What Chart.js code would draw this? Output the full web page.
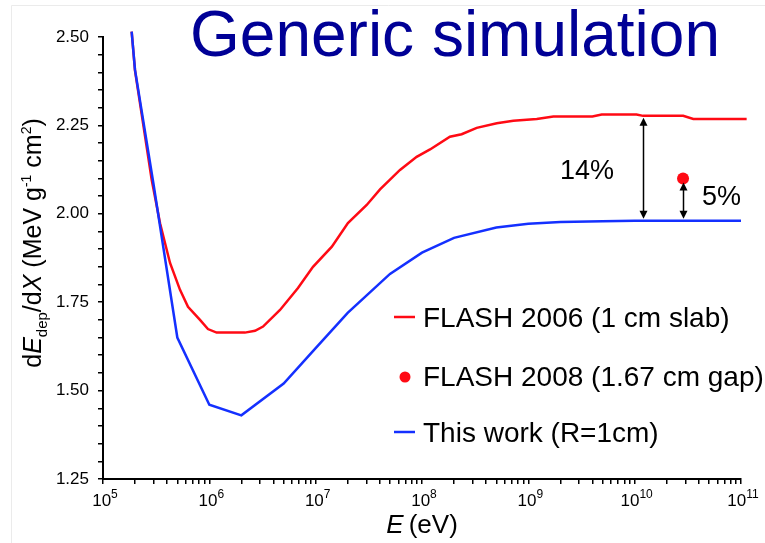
<!DOCTYPE html>
<html>
<head>
<meta charset="utf-8">
<script src="https://cdn.jsdelivr.net/npm/chart.js@4.4.1/dist/chart.umd.min.js"></script>
<style>
  html, body { margin: 0; padding: 0; background: #fff; }
  #wrap { position: relative; width: 765px; height: 543px; }
</style>
</head>
<body>
<div id="wrap"><canvas id="chart" width="765" height="543"></canvas></div>
<script>
// FLASH 2006 (1 cm slab) - energy (eV) and dE/dX
const flash2006E = [1.86e5, 2.0e5, 2.87e5, 3.44e5, 4.27e5, 5.3e5, 6.3e5, 8.17e5, 9.7e5, 1.17e6,
    2.16e6, 2.69e6, 3.2e6, 4.62e6, 6.82e6, 9.44e6, 1.42e7, 2.01e7, 3.02e7, 4.03e7,
    6.21e7, 8.91e7, 1.19e8, 1.83e8, 2.36e8, 3.27e8, 5.05e8, 7.23e8, 1.2e9, 1.72e9,
    4.0e9, 4.9e9, 1.04e10, 1.2e10, 2.86e10, 3.56e10, 1.13e11];
const flash2006Y = [2.515, 2.405, 2.096, 1.973, 1.861, 1.785, 1.737, 1.700, 1.674, 1.664,
    1.664, 1.669, 1.681, 1.728, 1.790, 1.850, 1.907, 1.974, 2.025, 2.069,
    2.124, 2.161, 2.182, 2.218, 2.225, 2.243, 2.256, 2.263, 2.268, 2.275,
    2.275, 2.281, 2.281, 2.277, 2.277, 2.268, 2.268];

// FLASH 2008 (1.67 cm gap)
const flash2008E = [2.85e10];
const flash2008Y = [2.10];

// This work (R=1cm)
const thisWorkE = [1.86e5, 2e5, 3e5, 5e5, 1e6, 2e6, 5e6, 1e7, 2e7, 5e7,
    1e8, 2e8, 5e8, 1e9, 2e9, 5e9, 1e10, 2e10, 5e10, 1e11];
const thisWorkY = [2.515, 2.407, 2.08, 1.65, 1.46, 1.43, 1.52, 1.62, 1.72, 1.83,
    1.89, 1.932, 1.961, 1.972, 1.977, 1.979, 1.980, 1.980, 1.980, 1.980];

// difference arrows: energy, top value, bottom value, label
const arrowE = [1.2e10, 2.85e10];
const arrowTop = [2.277, 2.10];
const arrowBottom = [1.98, 1.98];
const arrowLabels = ['14%', '5%'];

const xTickExponents = [5, 6, 7, 8, 9, 10, 11];
const yTickLabels = ['1.25', '1.50', '1.75', '2.00', '2.25', '2.50'];

const RED = '#ff0a14';
const BLUE = '#1430ff';
const FONT = '"Liberation Sans", Arial, Helvetica, sans-serif';

function toPoints(xs, ys) {
    return xs.map((v, i) => ({x: v, y: ys[i]}));
}

function drawArrowHead(ctx, x, y, dir) {
    ctx.beginPath();
    ctx.moveTo(x, y);
    ctx.lineTo(x - 4, y - dir * 8);
    ctx.lineTo(x + 4, y - dir * 8);
    ctx.closePath();
    ctx.fill();
}

// draws a run of text pieces, each with its own style/offset
function drawRich(ctx, parts, x, y, align) {
    const widths = parts.map(p => { ctx.font = p.font; return ctx.measureText(p.t).width; });
    const total = widths.reduce((a, b) => a + b, 0);
    let cx = align === 'center' ? x - total / 2 : x;
    parts.forEach((p, i) => {
        ctx.font = p.font;
        ctx.fillText(p.t, cx, y + (p.dy || 0));
        cx += widths[i];
    });
}

const decorations = {
    id: 'decorations',
    beforeDraw(chart) {
        const ctx = chart.ctx;
        ctx.save();
        ctx.fillStyle = '#fff';
        ctx.fillRect(0, 0, chart.width, chart.height);
        ctx.strokeStyle = '#ebebeb';
        ctx.lineWidth = 1;
        ctx.beginPath();
        ctx.moveTo(11.5, chart.height);
        ctx.lineTo(11.5, 5.5);
        ctx.lineTo(chart.width, 5.5);
        ctx.stroke();
        ctx.restore();
    },
    afterDraw(chart) {
        const ctx = chart.ctx;
        const x = chart.scales.x;
        const y = chart.scales.y;
        ctx.save();
        ctx.fillStyle = '#000';
        ctx.textAlign = 'left';
        ctx.textBaseline = 'alphabetic';

        // x tick labels 10^n
        xTickExponents.forEach(e => {
            const px = x.getPixelForValue(Math.pow(10, e));
            drawRich(ctx, [
                {t: '10', font: '17px ' + FONT},
                {t: String(e), font: '12px ' + FONT, dy: -8}
            ], px + 2, 506, 'center');
        });

        // x axis title
        drawRich(ctx, [
            {t: 'E', font: 'italic 26px ' + FONT},
            {t: '\u2009(eV)', font: '26px ' + FONT}
        ], (x.left + x.right) / 2, 533, 'center');

        // y axis title
        ctx.save();
        ctx.translate(41, 243);
        ctx.rotate(-Math.PI / 2);
        drawRich(ctx, [
            {t: 'd', font: '25px ' + FONT},
            {t: 'E', font: 'italic 25px ' + FONT},
            {t: 'dep', font: '15px ' + FONT, dy: 6},
            {t: '/d', font: '25px ' + FONT},
            {t: 'X', font: 'italic 25px ' + FONT},
            {t: ' (MeV g', font: '25px ' + FONT},
            {t: '-1', font: '14px ' + FONT, dy: -10},
            {t: ' cm', font: '25px ' + FONT},
            {t: '2', font: '14px ' + FONT, dy: -10},
            {t: ')', font: '25px ' + FONT}
        ], 0, 0, 'center');
        ctx.restore();

        // title
        ctx.fillStyle = '#000096';
        ctx.font = '64px ' + FONT;
        ctx.textAlign = 'center';
        ctx.fillText('Generic simulation', 455, 56);

        // arrows
        ctx.fillStyle = '#000';
        ctx.strokeStyle = '#000';
        ctx.lineWidth = 1.5;
        arrowE.forEach((e, i) => {
            const px = Math.round(x.getPixelForValue(e)) + 0.5;
            const top = y.getPixelForValue(arrowTop[i]) + (i === 0 ? 2 : 4);
            const bottom = y.getPixelForValue(arrowBottom[i]) - 2;
            ctx.beginPath();
            ctx.moveTo(px, top + 6);
            ctx.lineTo(px, bottom - 6);
            ctx.stroke();
            drawArrowHead(ctx, px, top, -1);
            drawArrowHead(ctx, px, bottom, 1);
        });
        ctx.font = '27px ' + FONT;
        ctx.textAlign = 'left';
        const p0 = x.getPixelForValue(arrowE[0]);
        const p1 = x.getPixelForValue(arrowE[1]);
        ctx.fillText(arrowLabels[0], p0 - 83, 179);
        ctx.fillText(arrowLabels[1], p1 + 19, 205);

        // legend
        const ds = chart.data.datasets;
        const rows = [318, 377, 433];
        ctx.font = '28px ' + FONT;
        ctx.textBaseline = 'middle';
        ds.forEach((d, i) => {
            const ry = rows[i];
            if (d.showLine === false) {
                ctx.fillStyle = d.pointBackgroundColor;
                ctx.beginPath();
                ctx.arc(405, ry, 5.5, 0, Math.PI * 2);
                ctx.fill();
            } else {
                ctx.strokeStyle = d.borderColor;
                ctx.lineWidth = 2.5;
                ctx.beginPath();
                ctx.moveTo(394, ry - 1);
                ctx.lineTo(415, ry - 1);
                ctx.stroke();
            }
            ctx.fillStyle = '#000';
            ctx.fillText(d.label, 423, ry + 1);
        });
        ctx.restore();
    }
};

new Chart(document.getElementById('chart').getContext('2d'), {
    type: 'line',
    data: {
        datasets: [{
            label: 'FLASH 2006 (1 cm slab)',
            data: toPoints(flash2006E, flash2006Y),
            borderColor: RED,
            borderWidth: 2.5,
            pointRadius: 0,
            tension: 0,
            clip: false,
            order: 2
        }, {
            label: 'FLASH 2008 (1.67 cm gap)',
            data: toPoints(flash2008E, flash2008Y),
            showLine: false,
            pointRadius: 6,
            pointBackgroundColor: RED,
            pointBorderWidth: 0,
            clip: false,
            order: 1
        }, {
            label: 'This work (R=1cm)',
            data: toPoints(thisWorkE, thisWorkY),
            borderColor: BLUE,
            borderWidth: 2.5,
            pointRadius: 0,
            tension: 0,
            clip: false,
            order: 0
        }]
    },
    options: {
        responsive: false,
        animation: false,
        devicePixelRatio: 1,
        layout: {padding: {top: 37, right: 24, left: 0, bottom: 0}},
        plugins: {legend: {display: false}, tooltip: {enabled: false}},
        scales: {
            x: {
                type: 'logarithmic',
                min: 1e5,
                max: 1e11,
                afterBuildTicks: scale => {
                    const ticks = [];
                    xTickExponents.forEach(e => {
                        const n = e === 11 ? 1 : 9;
                        for (let k = 1; k <= n; k++) ticks.push({value: k * Math.pow(10, e)});
                    });
                    scale.ticks = ticks;
                },
                afterFit: scale => { scale.height = 64; },
                ticks: {display: false, autoSkip: false},
                grid: {drawOnChartArea: false, drawTicks: true, tickLength: 5, color: '#000', lineWidth: 1.5},
                border: {display: true, color: '#000', width: 2}
            },
            y: {
                type: 'linear',
                min: 1.25,
                max: 2.5,
                afterFit: scale => { scale.width = 103; },
                ticks: {
                    stepSize: 0.05,
                    autoSkip: false,
                    padding: 9,
                    color: '#000',
                    font: {family: FONT, size: 17},
                    callback: v => {
                        const s = Number(v).toFixed(2);
                        return yTickLabels.includes(s) ? s : '';
                    }
                },
                grid: {drawOnChartArea: false, drawTicks: true, tickLength: 5, color: '#000', lineWidth: 1.5},
                border: {display: true, color: '#000', width: 2}
            }
        }
    },
    plugins: [decorations]
});
</script>
</body>
</html>
